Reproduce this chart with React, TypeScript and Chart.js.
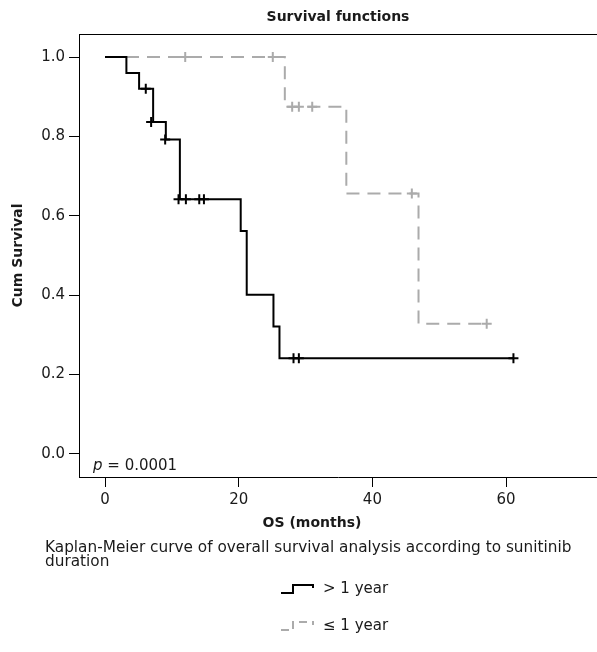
import React, { useEffect, useRef } from "react";
import { Chart, registerables } from "chart.js";

Chart.register(...registerables);

// ---- data ----
const xTicks = [0, 20, 40, 60];
const yTicks = [0, 0.2, 0.4, 0.6, 0.8, 1.0];

// > 1 year group (black, solid)
const longTimes = [0, 3.2, 5.1, 7.2, 9.1, 11.2, 20.3, 21.2, 25.2, 26.1, 61.1];
const longSurv = [1, 0.96, 0.92, 0.836, 0.792, 0.642, 0.562, 0.401, 0.321, 0.241, 0.241];
const longCensorTimes = [6.1, 6.9, 9.0, 11.0, 12.1, 14.1, 14.8, 28.2, 29.0, 61.1];
const longCensorSurv = [0.92, 0.836, 0.792, 0.642, 0.642, 0.642, 0.642, 0.241, 0.241, 0.241];

// <= 1 year group (grey, dashed)
const shortTimes = [0, 26.9, 36.1, 46.9, 57.1];
const shortSurv = [1, 0.875, 0.656, 0.328, 0.328];
const shortCensorTimes = [12.0, 25.1, 28.0, 29.0, 31.0, 45.9, 57.1];
const shortCensorSurv = [1, 1, 0.875, 0.875, 0.875, 0.656, 0.328];

const titleText = "Survival functions";
const xTitle = "OS (months)";
const yTitle = "Cum Survival";
const captionLines = [
  "Kaplan-Meier curve of overall survival analysis according to sunitinib",
  "duration",
];
const legendLabels = ["> 1 year", "≤ 1 year"];
const pLabel = "p";
const pValueText = " = 0.0001";

const FONT = "'DejaVu Sans', 'Open Sans', sans-serif";
const BLACK = "#000000";
const GREY = "#ababab";
const TEXT = "#1a1a1a";

const toPoints = (xs: number[], ys: number[]) => xs.map((x, i) => ({ x, y: ys[i] }));

const textPlugin = {
  id: "customTexts",
  afterDraw(chart: any) {
    const ctx: CanvasRenderingContext2D = chart.ctx;
    const ca = chart.chartArea;
    ctx.save();
    // top frame line
    ctx.strokeStyle = "#000";
    ctx.lineWidth = 1;
    ctx.beginPath();
    ctx.moveTo(ca.left, Math.round(ca.top) + 0.5);
    ctx.lineTo(ca.right, Math.round(ca.top) + 0.5);
    ctx.stroke();

    ctx.fillStyle = TEXT;
    ctx.textBaseline = "middle";
    // title
    ctx.font = `bold 14px ${FONT}`;
    ctx.textAlign = "center";
    ctx.fillText(titleText, (ca.left + ca.right) / 2, 17);
    // x title
    ctx.fillText(xTitle, 312, 523);
    // y title
    ctx.save();
    ctx.translate(18, (ca.top + ca.bottom) / 2);
    ctx.rotate(-Math.PI / 2);
    ctx.fillText(yTitle, 0, 0);
    ctx.restore();

    // p value
    ctx.textAlign = "left";
    ctx.font = `oblique 15px ${FONT}`;
    ctx.fillText(pLabel, 93, 466);
    const pw = ctx.measureText(pLabel).width;
    ctx.font = `15px ${FONT}`;
    ctx.fillText(pValueText, 93 + pw, 466);

    // caption
    ctx.font = `15.3px ${FONT}`;
    ctx.fillText(captionLines[0], 45, 548);
    ctx.fillText(captionLines[1], 45, 562);

    // legend
    ctx.font = `15px ${FONT}`;
    const legY = [589, 626];
    const iconL = 281;
    const iconM = 293;
    const iconR = 313;
    for (let i = 0; i < 2; i++) {
      const y = legY[i];
      ctx.save();
      ctx.strokeStyle = i === 0 ? BLACK : GREY;
      ctx.lineWidth = 2;
      if (i === 1) ctx.setLineDash([8, 5]);
      ctx.beginPath();
      ctx.moveTo(iconL, y + 4);
      ctx.lineTo(iconM, y + 4);
      ctx.lineTo(iconM, y - 4);
      ctx.lineTo(iconR, y - 4);
      ctx.lineTo(iconR, y - 1);
      ctx.stroke();
      ctx.restore();
      ctx.fillStyle = TEXT;
      ctx.fillText(legendLabels[i], 323, y);
    }
    ctx.restore();
  },
};

export default function App() {
  const ref = useRef<HTMLCanvasElement | null>(null);

  useEffect(() => {
    document.body.style.margin = "0";
    const canvas = ref.current;
    if (!canvas) return;
    const tickFont = { family: FONT, size: 15 };
    const chart = new Chart(canvas, {
      type: "line",
      data: {
        datasets: [
          {
            label: legendLabels[0],
            data: toPoints(longTimes, longSurv),
            stepped: true,
            borderColor: BLACK,
            borderWidth: 2,
            pointRadius: 0,
            fill: false,
            order: 0,
          },
          {
            label: legendLabels[0] + " censored",
            data: toPoints(longCensorTimes, longCensorSurv),
            showLine: false,
            pointStyle: "cross",
            pointRadius: 5,
            borderColor: BLACK,
            borderWidth: 2,
            order: 0,
          },
          {
            label: legendLabels[1],
            data: toPoints(shortTimes, shortSurv),
            stepped: true,
            borderColor: GREY,
            borderWidth: 2,
            borderDash: [13, 8],
            pointRadius: 0,
            fill: false,
            order: 1,
          },
          {
            label: legendLabels[1] + " censored",
            data: toPoints(shortCensorTimes, shortCensorSurv),
            showLine: false,
            pointStyle: "cross",
            pointRadius: 5,
            borderColor: GREY,
            borderWidth: 2,
            order: 1,
          },
        ] as any,
      },
      options: {
        responsive: false,
        animation: false,
        layout: { autoPadding: false, padding: { top: 34, left: 0, right: 0, bottom: 0 } },
        plugins: {
          legend: { display: false },
          title: { display: false },
          tooltip: { enabled: false },
        },
        scales: {
          x: {
            type: "linear",
            min: -3.89,
            max: 73.6,
            afterBuildTicks: (s: any) => {
              s.ticks = xTicks.map((v) => ({ value: v }));
            },
            afterFit: (s: any) => {
              s.height = 175;
              s.paddingLeft = 0;
              s.paddingRight = 0;
            },
            grid: {
              display: true,
              drawOnChartArea: false,
              drawTicks: true,
              tickLength: 10,
              color: "#000",
              lineWidth: 1,
            },
            border: { display: true, color: "#000", width: 1 },
            ticks: { font: tickFont, color: TEXT, padding: 4, maxRotation: 0, autoSkip: false },
          },
          y: {
            type: "linear",
            min: -0.058,
            max: 1.058,
            afterBuildTicks: (s: any) => {
              s.ticks = yTicks.map((v) => ({ value: v }));
            },
            afterFit: (s: any) => {
              s.width = 79;
            },
            grid: {
              display: true,
              drawOnChartArea: false,
              drawTicks: true,
              tickLength: 10,
              color: "#000",
              lineWidth: 1,
            },
            border: { display: true, color: "#000", width: 1 },
            ticks: {
              font: tickFont,
              color: TEXT,
              padding: 4,
              autoSkip: false,
              callback: (v: any) => Number(v).toFixed(1),
            },
          },
        },
      },
      plugins: [textPlugin],
    } as any);
    return () => chart.destroy();
  }, []);

  return (
    <div style={{ width: 597, height: 652 }}>
      <canvas ref={ref} width={597} height={652} style={{ display: "block" }} />
    </div>
  );
}
